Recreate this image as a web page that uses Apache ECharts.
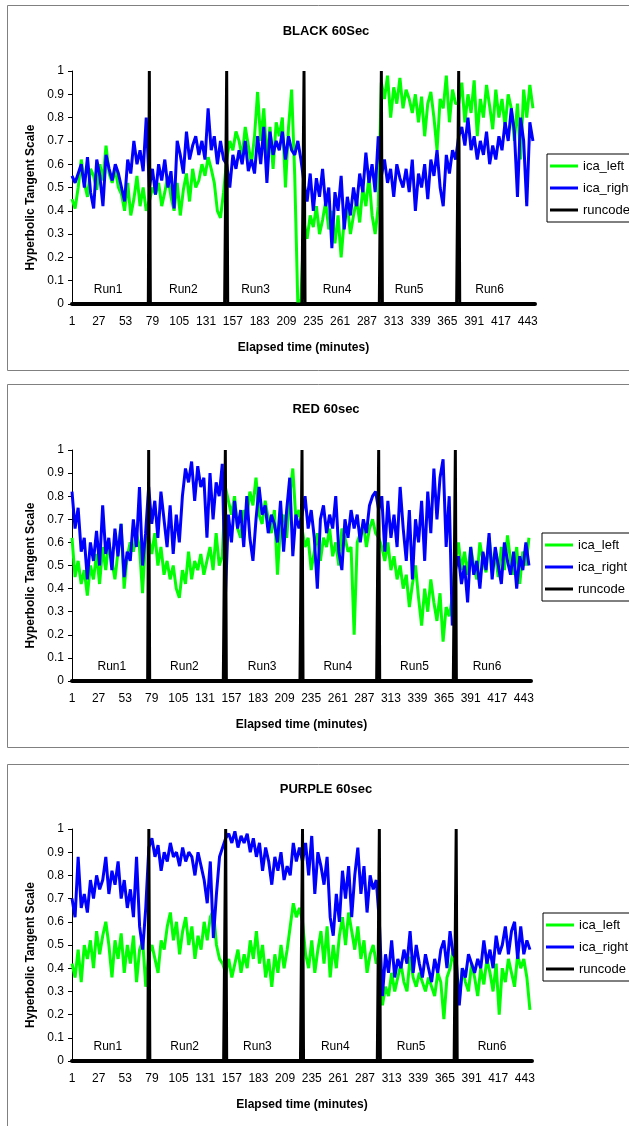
<!DOCTYPE html>
<html>
<head>
<meta charset="utf-8">
<title>ICA 60sec</title>
<script src="https://cdn.jsdelivr.net/npm/echarts@6/dist/echarts.min.js"></script>
<style>
  html, body { margin: 0; padding: 0; background: #fff; }
  #chart { width: 629px; height: 1126px; }
</style>
</head>
<body>
<div id="chart"></div>
<script>
// minutes on the category axis (1..450), one label every 26 minutes
const minutes = Array.from({ length: 450 }, (_, i) => String(i + 1));
// readings are taken every 3 minutes from the picture
const sampleStep = 3;
// minute at which runcode jumps to 1 (start of Run2..Run6)
const runStarts = [76, 151, 226, 301, 376];
const runNames = ['Run1', 'Run2', 'Run3', 'Run4', 'Run5', 'Run6'];

// BLACK 60Sec
const blackLeft = [
  0.45, 0.41, 0.50, 0.62, 0.52, 0.46, 0.58, 0.55, 0.49, 0.60, 0.53, 0.68, 0.56, 0.52, 0.58, 0.50, 0.47, 0.40, 0.52, 0.38, 0.45, 0.55, 0.42, 0.50, 0.40,
  0.44, 0.50, 0.47, 0.52, 0.42, 0.48, 0.55, 0.46, 0.40, 0.52, 0.38, 0.49, 0.56, 0.44, 0.58, 0.50, 0.53, 0.60, 0.55, 0.63, 0.58, 0.52, 0.40, 0.37, 0.48,
  0.62, 0.70, 0.66, 0.74, 0.70, 0.63, 0.76, 0.68, 0.60, 0.72, 0.91, 0.70, 0.84, 0.62, 0.76, 0.58, 0.78, 0.72, 0.80, 0.50, 0.76, 0.92, 0.55, 0.00, 0.02,
  0.35, 0.28, 0.38, 0.33, 0.42, 0.30, 0.36, 0.44, 0.32, 0.40, 0.26, 0.38, 0.20, 0.36, 0.42, 0.30, 0.38, 0.45, 0.35, 0.50, 0.42, 0.55, 0.38, 0.30, 0.42,
  0.95, 0.88, 0.98, 0.80, 0.93, 0.86, 0.97, 0.84, 0.92, 0.88, 0.82, 0.90, 0.78, 0.89, 0.72, 0.86, 0.91, 0.80, 0.66, 0.88, 0.84, 0.98, 0.78, 0.92, 0.86,
  0.86, 0.95, 0.78, 0.90, 0.82, 0.96, 0.72, 0.88, 0.80, 0.94, 0.85, 0.75, 0.92, 0.80, 0.88, 0.76, 0.90, 0.84, 0.70, 0.86, 0.62, 0.92, 0.80, 0.94, 0.84
];
const blackRight = [
  0.55, 0.52, 0.56, 0.60, 0.50, 0.63, 0.48, 0.41, 0.62, 0.55, 0.42, 0.64, 0.58, 0.53, 0.60, 0.56, 0.50, 0.44, 0.62, 0.56, 0.70, 0.60, 0.66, 0.57, 0.80,
  0.50, 0.58, 0.47, 0.60, 0.53, 0.62, 0.50, 0.57, 0.41, 0.70, 0.64, 0.56, 0.74, 0.62, 0.68, 0.72, 0.64, 0.70, 0.62, 0.84, 0.66, 0.72, 0.60, 0.70, 0.62,
  0.60, 0.50, 0.64, 0.58, 0.66, 0.60, 0.70, 0.57, 0.62, 0.56, 0.72, 0.60, 0.76, 0.52, 0.74, 0.64, 0.70, 0.66, 0.74, 0.62, 0.72, 0.66, 0.64, 0.70, 0.62,
  0.52, 0.44, 0.56, 0.40, 0.54, 0.46, 0.58, 0.42, 0.50, 0.24, 0.48, 0.40, 0.55, 0.32, 0.46, 0.38, 0.50, 0.42, 0.56, 0.48, 0.65, 0.52, 0.60, 0.48, 0.72,
  0.55, 0.62, 0.52, 0.58, 0.46, 0.60, 0.54, 0.50, 0.58, 0.48, 0.62, 0.40, 0.56, 0.50, 0.60, 0.45, 0.62, 0.55, 0.66, 0.50, 0.42, 0.64, 0.56, 0.66, 0.62,
  0.72, 0.76, 0.68, 0.80, 0.66, 0.72, 0.62, 0.70, 0.64, 0.74, 0.60, 0.68, 0.62, 0.72, 0.66, 0.78, 0.70, 0.84, 0.74, 0.46, 0.80, 0.70, 0.42, 0.78, 0.70
];

// RED 60sec
const redLeft = [
  0.62, 0.45, 0.52, 0.42, 0.48, 0.37, 0.50, 0.44, 0.55, 0.42, 0.58, 0.48, 0.60, 0.52, 0.44, 0.56, 0.68, 0.40, 0.54, 0.60, 0.56, 0.64, 0.58, 0.38, 0.62,
  0.62, 0.55, 0.64, 0.50, 0.58, 0.46, 0.52, 0.44, 0.50, 0.40, 0.36, 0.48, 0.42, 0.56, 0.44, 0.52, 0.48, 0.55, 0.46, 0.52, 0.58, 0.48, 0.64, 0.50, 0.54,
  0.84, 0.78, 0.72, 0.80, 0.66, 0.62, 0.74, 0.70, 0.82, 0.76, 0.88, 0.72, 0.68, 0.78, 0.70, 0.64, 0.74, 0.46, 0.68, 0.72, 0.62, 0.80, 0.92, 0.70, 0.74,
  0.66, 0.58, 0.62, 0.48, 0.56, 0.64, 0.52, 0.62, 0.58, 0.66, 0.54, 0.60, 0.50, 0.66, 0.62, 0.56, 0.58, 0.20, 0.60, 0.64, 0.68, 0.58, 0.66, 0.70, 0.64,
  0.62, 0.58, 0.52, 0.60, 0.48, 0.54, 0.44, 0.50, 0.40, 0.46, 0.32, 0.42, 0.50, 0.36, 0.24, 0.40, 0.30, 0.44, 0.34, 0.26, 0.38, 0.17, 0.32, 0.28, 0.36,
  0.52, 0.60, 0.48, 0.56, 0.46, 0.58, 0.50, 0.44, 0.60, 0.52, 0.47, 0.62, 0.50, 0.55, 0.45, 0.58, 0.48, 0.63, 0.52, 0.46, 0.58, 0.42, 0.56, 0.50, 0.62
];
const redRight = [
  0.82, 0.66, 0.75, 0.56, 0.62, 0.44, 0.60, 0.52, 0.65, 0.50, 0.76, 0.55, 0.62, 0.48, 0.66, 0.54, 0.68, 0.45, 0.56, 0.52, 0.70, 0.58, 0.84, 0.50, 0.64,
  0.84, 0.68, 0.78, 0.62, 0.82, 0.70, 0.58, 0.76, 0.55, 0.72, 0.60, 0.80, 0.92, 0.86, 0.95, 0.78, 0.93, 0.84, 0.88, 0.62, 0.90, 0.70, 0.86, 0.80, 0.94,
  0.36, 0.72, 0.60, 0.78, 0.66, 0.74, 0.58, 0.80, 0.62, 0.52, 0.70, 0.84, 0.72, 0.76, 0.64, 0.72, 0.68, 0.60, 0.78, 0.56, 0.74, 0.88, 0.54, 0.72, 0.66,
  0.72, 0.80, 0.66, 0.74, 0.62, 0.40, 0.70, 0.76, 0.64, 0.72, 0.66, 0.80, 0.56, 0.48, 0.70, 0.62, 0.74, 0.66, 0.72, 0.60, 0.70, 0.64, 0.76, 0.80, 0.82,
  0.74, 0.80, 0.56, 0.78, 0.62, 0.72, 0.58, 0.84, 0.66, 0.52, 0.74, 0.44, 0.70, 0.60, 0.78, 0.52, 0.82, 0.64, 0.92, 0.70, 0.88, 0.96, 0.58, 0.80, 0.24,
  0.48, 0.54, 0.42, 0.50, 0.34, 0.58, 0.46, 0.52, 0.40, 0.56, 0.48, 0.64, 0.44, 0.58, 0.50, 0.42, 0.60, 0.52, 0.46, 0.56, 0.40, 0.54, 0.48, 0.60, 0.50
];

// PURPLE 60sec
const purpleLeft = [
  0.42, 0.36, 0.48, 0.34, 0.50, 0.44, 0.52, 0.40, 0.56, 0.46, 0.54, 0.60, 0.50, 0.36, 0.52, 0.44, 0.55, 0.38, 0.50, 0.42, 0.54, 0.34, 0.48, 0.52, 0.32,
  0.46, 0.50, 0.44, 0.38, 0.52, 0.48, 0.58, 0.64, 0.52, 0.60, 0.46, 0.56, 0.62, 0.50, 0.58, 0.44, 0.54, 0.48, 0.60, 0.52, 0.62, 0.65, 0.50, 0.44, 0.42,
  0.38, 0.44, 0.36, 0.42, 0.48, 0.38, 0.46, 0.40, 0.52, 0.44, 0.56, 0.42, 0.50, 0.36, 0.44, 0.32, 0.46, 0.38, 0.50, 0.40, 0.48, 0.58, 0.68, 0.62, 0.66,
  0.60, 0.46, 0.40, 0.52, 0.38, 0.48, 0.56, 0.42, 0.58, 0.36, 0.50, 0.40, 0.54, 0.62, 0.50, 0.64, 0.56, 0.48, 0.58, 0.44, 0.52, 0.38, 0.46, 0.50, 0.42,
  0.44, 0.24, 0.32, 0.28, 0.38, 0.30, 0.36, 0.42, 0.34, 0.30, 0.45, 0.36, 0.32, 0.38, 0.34, 0.30, 0.36, 0.32, 0.28, 0.38, 0.34, 0.18, 0.36, 0.40, 0.48,
  0.36, 0.26, 0.40, 0.34, 0.30, 0.42, 0.36, 0.28, 0.40, 0.33, 0.44, 0.38, 0.30, 0.42, 0.20, 0.40, 0.34, 0.44, 0.38, 0.32, 0.46, 0.40, 0.44, 0.36, 0.22
];
const purpleRight = [
  0.70, 0.62, 0.88, 0.66, 0.72, 0.64, 0.78, 0.70, 0.80, 0.74, 0.78, 0.88, 0.72, 0.82, 0.76, 0.86, 0.70, 0.78, 0.66, 0.74, 0.62, 0.88, 0.58, 0.48, 0.66,
  0.92, 0.96, 0.88, 0.93, 0.82, 0.90, 0.86, 0.94, 0.88, 0.90, 0.84, 0.92, 0.86, 0.90, 0.88, 0.80, 0.90, 0.84, 0.78, 0.68, 0.86, 0.53, 0.72, 0.88, 0.92,
  0.96, 0.98, 0.94, 0.99, 0.92, 0.97, 0.94, 0.98, 0.90, 0.96, 0.88, 0.94, 0.82, 0.92, 0.86, 0.76, 0.88, 0.82, 0.90, 0.78, 0.84, 0.80, 0.94, 0.86, 0.92,
  0.86, 0.94, 0.80, 0.97, 0.72, 0.90, 0.84, 0.76, 0.88, 0.62, 0.54, 0.72, 0.60, 0.82, 0.70, 0.84, 0.62, 0.80, 0.92, 0.72, 0.84, 0.64, 0.80, 0.74, 0.78,
  0.60, 0.28, 0.46, 0.38, 0.52, 0.36, 0.44, 0.40, 0.48, 0.42, 0.56, 0.38, 0.50, 0.42, 0.36, 0.46, 0.40, 0.34, 0.44, 0.38, 0.48, 0.52, 0.40, 0.56, 0.46,
  0.44, 0.24, 0.40, 0.36, 0.46, 0.42, 0.38, 0.44, 0.40, 0.52, 0.42, 0.48, 0.40, 0.54, 0.46, 0.50, 0.58, 0.46, 0.56, 0.60, 0.44, 0.58, 0.46, 0.52, 0.48
];

const font = 'Liberation Sans, Arial, sans-serif';

// one panel = one grid, layout in pixels
const panels = [
  { title: 'BLACK 60Sec', left: blackLeft, right: blackRight,
    grid: { left: 72, top: 71, width: 463, height: 233 }, titleTop: 20, legendTop: 154, legendLeft: 547,
    box: { y: 5, h: 365 }, runAt: [35, 108, 178, 257, 327, 405] },
  { title: 'RED 60sec', left: redLeft, right: redRight,
    grid: { left: 72, top: 450, width: 459, height: 231 }, titleTop: 398, legendTop: 533, legendLeft: 542,
    box: { y: 384, h: 363 }, runAt: [39, 110, 186, 260, 335, 406] },
  { title: 'PURPLE 60sec', left: purpleLeft, right: purpleRight,
    grid: { left: 72, top: 829, width: 460, height: 232 }, titleTop: 778, legendTop: 913, legendLeft: 543,
    box: { y: 764, h: 380 }, runAt: [35, 110, 181, 257, 331, 410] }
];

function toPairs(values) {
  return values.map((v, i) => [i * sampleStep, v]);
}

// runcode is 0 everywhere except at the start of each run
const runcode = minutes.map(m => (runStarts.indexOf(Number(m)) >= 0 ? 1 : 0));

const option = {
  backgroundColor: '#fff',
  animation: false,
  title: [],
  legend: [],
  grid: [],
  xAxis: [],
  yAxis: [],
  series: [],
  graphic: []
};

panels.forEach((p, i) => {
  // outer frame of each chart
  option.graphic.push({
    type: 'rect', silent: true, z: -10,
    shape: { x: 7.5, y: p.box.y + 0.5, width: 640, height: p.box.h },
    style: { fill: 'none', stroke: '#808080', lineWidth: 1 }
  });
  option.title.push({
    text: p.title, left: 321, top: p.titleTop, textAlign: 'center',
    textStyle: { fontFamily: font, fontSize: 13, fontWeight: 'bold', color: '#000' }
  });
  option.legend.push({
    orient: 'vertical', left: p.legendLeft, top: p.legendTop,
    data: ['ica_left', 'ica_right', 'runcode'],
    selectedMode: false, icon: 'rect',
    borderColor: '#000', borderWidth: 1, borderRadius: 0, padding: [5, 12, 5, 3],
    itemWidth: 28, itemHeight: 3, itemGap: 8,
    textStyle: { fontFamily: font, fontSize: 13, color: '#000', lineHeight: 14 }
  });
  option.grid.push(Object.assign({ containLabel: false }, p.grid));
  option.xAxis.push({
    type: 'category', gridIndex: i, data: minutes, boundaryGap: false,
    name: 'Elapsed time (minutes)', nameLocation: 'middle', nameGap: 38,
    nameTextStyle: { fontFamily: font, fontSize: 12, fontWeight: 'bold', color: '#000' },
    axisLine: { lineStyle: { color: '#000', width: 4 } },
    axisTick: { show: false },
    axisLabel: { interval: 25, margin: 12, fontFamily: font, fontSize: 12, color: '#000' },
    splitLine: { show: false }
  });
  option.yAxis.push({
    type: 'value', gridIndex: i, min: 0, max: 1, interval: 0.1,
    name: 'Hyperbolic Tangent Scale', nameLocation: 'middle', nameGap: 35, nameRotate: 90,
    nameTextStyle: { fontFamily: font, fontSize: 12, fontWeight: 'bold', color: '#000', padding: [0, 20, 0, 0] },
    axisLine: { show: true, lineStyle: { color: '#000', width: 1 } },
    axisTick: { show: true, length: 4, lineStyle: { color: '#000' } },
    axisLabel: { margin: 8, fontFamily: font, fontSize: 12, color: '#000' },
    splitLine: { show: false }
  });
  option.series.push({
    name: 'ica_left', type: 'line', xAxisIndex: i, yAxisIndex: i,
    data: toPairs(p.left), symbol: 'none',
    lineStyle: { color: '#00ff00', width: 3 }, itemStyle: { color: '#00ff00' }
  });
  option.series.push({
    name: 'ica_right', type: 'line', xAxisIndex: i, yAxisIndex: i,
    data: toPairs(p.right), symbol: 'none',
    lineStyle: { color: '#0000ff', width: 3 }, itemStyle: { color: '#0000ff' }
  });
  option.series.push({
    name: 'runcode', type: 'line', xAxisIndex: i, yAxisIndex: i,
    data: runcode, symbol: 'none',
    lineStyle: { color: '#000', width: 3 }, itemStyle: { color: '#000' },
    markPoint: {
      symbol: 'circle', symbolSize: 0, silent: true,
      label: { show: true, position: 'inside', formatter: '{b}', fontFamily: font, fontSize: 12, color: '#000' },
      data: runNames.map((name, k) => ({ name: name, coord: [p.runAt[k], 0.06] }))
    }
  });
});

const chart = echarts.init(document.getElementById('chart'), null, { renderer: 'canvas' });
chart.setOption(option);
</script>
</body>
</html>
